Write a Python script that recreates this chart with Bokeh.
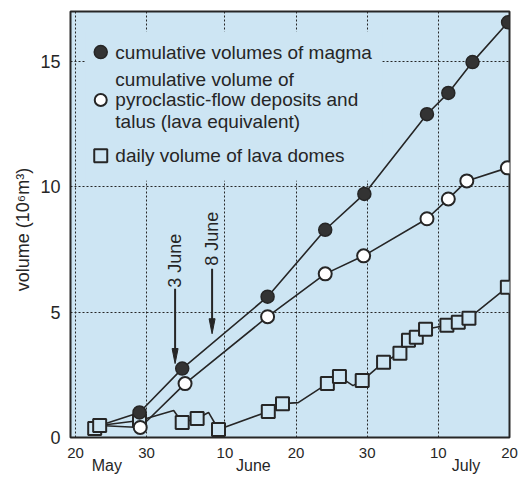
from math import pi
from bokeh.plotting import figure
from bokeh.models import Range1d, Label, FixedTicker, LinearAxis
from bokeh.embed import file_html
from bokeh.resources import INLINE

# x = days counted from 20 May
magma_days = [9, 15, 27, 35.1, 40.6, 49.4, 52.4, 55.8, 60.8]
magma_vol = [1.0, 2.75, 5.62, 8.29, 9.72, 12.9, 13.75, 14.98, 16.57]

pyro_days = [9.1, 15.4, 27, 35.1, 40.5, 49.4, 52.4, 55.0, 60.7]
pyro_vol = [0.4, 2.15, 4.82, 6.53, 7.25, 8.73, 9.52, 10.24, 10.76]

dome_days = [2.7, 3.4, 9, 15, 17.1, 20.1, 27.1, 29.1, 35.4, 37.1, 40.3,
             43.3, 45.6, 46.8, 47.9, 49.2, 52.2, 53.8, 55.3, 60.7]
dome_vol = [0.36, 0.48, 0.68, 0.6, 0.76, 0.32, 1.04, 1.35, 2.15, 2.43, 2.27,
            3.0, 3.36, 3.88, 4.0, 4.32, 4.48, 4.6, 4.76, 6.0]
# line vertices without a marker
dome_vertex_days = [13.8, 18.7, 31.3, 39.0]
dome_vertex_vol = [1.08, 1.0, 1.39, 2.07]

tick_days = [0, 10, 21, 31, 41, 51, 61]
tick_labels = ["20", "30", "10", "20", "30", "10", "20"]
month_names = ["May", "June", "July"]
month_days = [4.4, 25.0, 54.9]
y_ticks = [0, 5, 10, 15]

arrow_labels = ["3 June", "8 June"]
arrow_days = [14.0, 19.2]
arrow_tip = [2.95, 4.14]
arrow_top = [5.94, 6.73]
arrow_label_y = [7.05, 7.93]

legend_magma = "cumulative volumes of magma"
legend_pyro = ["cumulative volume of", "pyroclastic-flow deposits and", "talus (lava equivalent)"]
legend_dome = "daily volume of lava domes"

FONT = "Liberation Sans"
INK = "#262626"
BG = "#cde5f3"

p = figure(width=519, height=481, output_backend="svg", toolbar_location=None,
           x_range=Range1d(-0.7, 61), y_range=Range1d(0, 17.0),
           min_border_left=70, min_border_right=10, min_border_top=11, min_border_bottom=44)
p.background_fill_color = BG
p.border_fill_color = "white"
p.outline_line_color = INK
p.outline_line_width = 2

p.xaxis.ticker = FixedTicker(ticks=tick_days)
p.xaxis.major_label_overrides = {d: l for d, l in zip(tick_days, tick_labels)}
p.yaxis.ticker = FixedTicker(ticks=y_ticks)
p.xgrid.ticker = FixedTicker(ticks=tick_days)
p.ygrid.ticker = FixedTicker(ticks=y_ticks)

month_axis = LinearAxis(ticker=FixedTicker(ticks=month_days),
                        major_label_overrides={d: m for d, m in zip(month_days, month_names)})
p.add_layout(month_axis, "below")

for ax in (p.xaxis[0], p.yaxis[0], month_axis):
    ax.axis_line_color = None
    ax.major_tick_line_color = None
    ax.minor_tick_line_color = None
    ax.major_tick_out = 0
    ax.major_tick_in = 0
    ax.minor_tick_out = 0
    ax.minor_tick_in = 0
    ax.major_label_text_font = FONT
    ax.major_label_text_color = INK
    ax.major_label_standoff = 10
p.xaxis[0].major_label_text_font_size = "15px"
p.xaxis[0].major_label_standoff = 10
month_axis.major_label_text_font_size = "16px"
month_axis.major_label_standoff = -4
p.yaxis.major_label_text_font_size = "18px"
p.yaxis.axis_label = "volume   (10\u2076m\u00b3)"
p.yaxis.axis_label_text_font = FONT
p.yaxis.axis_label_text_font_size = "18px"
p.yaxis.axis_label_text_font_style = "normal"
p.yaxis.axis_label_text_color = INK
p.yaxis.axis_label_standoff = 4
for g in (p.xgrid[0], p.ygrid[0]):
    g.grid_line_color = INK
    g.grid_line_dash = "2 2"
    g.grid_line_width = 1

# legend area (hides the grid behind the legend)
lx0, lx1, ly0, ly1 = 1.4, 43.1, 10.25, 16.2
p.quad(left=[lx0], right=[lx1], bottom=[ly0], top=[ly1], fill_color=BG, line_color=None)

# lines
dome_line = sorted(zip(dome_days + dome_vertex_days, dome_vol + dome_vertex_vol))
p.line([d for d, v in dome_line], [v for d, v in dome_line], line_color=INK, line_width=1.6)
p.line([dome_days[1]] + magma_days, [dome_vol[1]] + magma_vol, line_color=INK, line_width=1.6)
p.line([dome_days[1]] + pyro_days, [dome_vol[1]] + pyro_vol, line_color=INK, line_width=1.6)

# markers
p.scatter(dome_days, dome_vol, marker="square", size=13, fill_color=BG, line_color=INK, line_width=2)
p.scatter(pyro_days, pyro_vol, marker="circle", size=13, fill_color="white", line_color=INK, line_width=2)
p.scatter(magma_days, magma_vol, marker="circle", size=13, fill_color="#333333", line_color=INK, line_width=1.5)

# arrows
hl, hw = 0.6, 0.42
for lab, ax_, tip, top, ly in zip(arrow_labels, arrow_days, arrow_tip, arrow_top, arrow_label_y):
    p.segment([ax_], [top], [ax_], [tip + hl * 0.8], line_color=INK, line_width=2)
    p.patch([ax_ - hw, ax_, ax_ + hw], [tip + hl, tip, tip + hl], fill_color=INK, line_color=INK, line_width=1)
    p.add_layout(Label(x=ax_, y=ly, text=lab, angle=pi / 2, text_align="center", text_baseline="middle",
                       text_font=FONT, text_font_size="18px", text_color=INK))

# legend
leg_x = 3.55
leg_tx = 5.6
p.scatter([leg_x], [15.38], marker="circle", size=13, fill_color="#333333", line_color=INK, line_width=1.5)
p.scatter([leg_x], [13.47], marker="circle", size=12, fill_color="white", line_color=INK, line_width=2)
p.scatter([leg_x], [11.24], marker="square", size=13, fill_color=BG, line_color=INK, line_width=2)
leg_texts = [legend_magma] + legend_pyro + [legend_dome]
leg_ys = [15.38, 14.3, 13.47, 12.63, 11.24]
for t, yy in zip(leg_texts, leg_ys):
    p.add_layout(Label(x=leg_tx, y=yy, text=t, text_align="left", text_baseline="middle",
                       text_font=FONT, text_font_size="19px", text_color=INK))

open("out.html", "w").write(file_html(p, INLINE))
